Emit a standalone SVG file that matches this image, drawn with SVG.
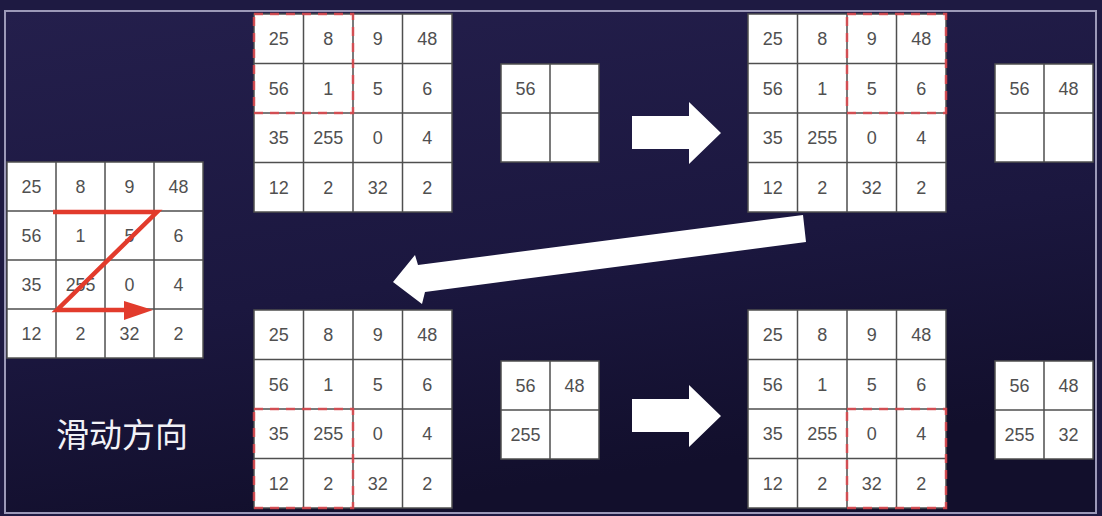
<svg xmlns="http://www.w3.org/2000/svg" width="1102" height="516" viewBox="0 0 1102 516">
<defs>
<linearGradient id="bg" x1="0" y1="0" x2="0.3" y2="1">
<stop offset="0" stop-color="#241f4c"/>
<stop offset="0.6" stop-color="#1b173f"/>
<stop offset="1" stop-color="#120f2c"/>
</linearGradient>
<style>
.cell{fill:#ffffff;stroke:#4f4f4f;stroke-width:1.5}
.gl{stroke:#4f4f4f;stroke-width:1.5}
.n{font-family:"Liberation Sans",Arial,sans-serif;font-size:18px;fill:#505050;text-anchor:middle}
.sel{fill:none;stroke:#e0474c;stroke-opacity:0.85;stroke-width:2.5;stroke-dasharray:9 7}
.blk{fill:#ffffff}
</style>
<g id="grid4">
<rect class="cell" x="0" y="0" width="198" height="198"/>
<path class="gl" d="M49.5,0V198M99,0V198M148.5,0V198M0,49.5H198M0,99H198M0,148.5H198"/>
<text class="n" x="24.75" y="31">25</text><text class="n" x="74.25" y="31">8</text><text class="n" x="123.75" y="31">9</text><text class="n" x="173.25" y="31">48</text>
<text class="n" x="24.75" y="80.5">56</text><text class="n" x="74.25" y="80.5">1</text><text class="n" x="123.75" y="80.5">5</text><text class="n" x="173.25" y="80.5">6</text>
<text class="n" x="24.75" y="130">35</text><text class="n" x="74.25" y="130">255</text><text class="n" x="123.75" y="130">0</text><text class="n" x="173.25" y="130">4</text>
<text class="n" x="24.75" y="179.5">12</text><text class="n" x="74.25" y="179.5">2</text><text class="n" x="123.75" y="179.5">32</text><text class="n" x="173.25" y="179.5">2</text>
</g>
<g id="grid2">
<rect class="cell" x="0" y="0" width="98" height="98"/>
<path class="gl" d="M49,0V98M0,49H98"/>
</g>
<polygon id="rarrow" class="blk" points="0,0 57,0 57,-14 89,17 57,48 57,33 0,33"/>
</defs>
<rect x="0" y="0" width="1102" height="516" fill="#1e1a42"/>
<rect x="5" y="11" width="1091" height="502" fill="url(#bg)" stroke="#9c99b8" stroke-width="2"/>

<g id="node-source">
<use href="#grid4" transform="translate(7,162) scale(0.99)"/>
</g>
<g id="node-label">
<text x="56" y="447" font-family="'Noto Sans CJK SC',sans-serif" font-size="33" fill="#f2f2f7">滑动方向</text>
</g>

<g id="node-step1">
<use href="#grid4" x="254" y="14"/>
<rect class="sel" x="254" y="14" width="99" height="99"/>
</g>
<g id="node-out1">
<use href="#grid2" x="501" y="64"/>
<text class="n" x="525.5" y="94.5">56</text>
</g>

<g id="node-step2">
<use href="#grid4" x="748" y="14"/>
<rect class="sel" x="847" y="14" width="99" height="99"/>
</g>
<g id="node-out2">
<use href="#grid2" x="995" y="64"/>
<text class="n" x="1019.5" y="94.5">56</text><text class="n" x="1068.5" y="94.5">48</text>
</g>

<g id="node-step3">
<use href="#grid4" x="254" y="310"/>
<rect class="sel" x="254" y="409" width="99" height="99"/>
</g>
<g id="node-out3">
<use href="#grid2" x="501" y="361"/>
<text class="n" x="525.5" y="391.5">56</text><text class="n" x="574.5" y="391.5">48</text>
<text class="n" x="525.5" y="440.5">255</text>
</g>

<g id="node-step4">
<use href="#grid4" x="748" y="310"/>
<rect class="sel" x="847" y="409" width="99" height="99"/>
</g>
<g id="node-out4">
<use href="#grid2" x="995" y="361"/>
<text class="n" x="1019.5" y="391.5">56</text><text class="n" x="1068.5" y="391.5">48</text>
<text class="n" x="1019.5" y="440.5">255</text><text class="n" x="1068.5" y="440.5">32</text>
</g>

<g id="connectors">
<path d="M53,212H157L57,310H128" fill="none" stroke="#e23b2c" stroke-width="4.5" stroke-linejoin="miter"/>
<polygon points="124,301 153,310 124,320" fill="#e23b2c"/>
<use href="#rarrow" x="632" y="116"/>
<use href="#rarrow" x="632" y="399"/>
<polygon class="blk" points="803,215 806,242 425,292 422,304 393,282 415,255 418,265"/>
</g>
</svg>
